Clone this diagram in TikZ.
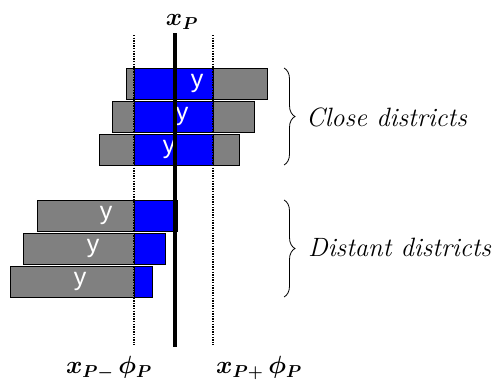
\documentclass[tikz,border=0pt]{standalone}
\usepackage{fontspec}
\usepackage{amsmath,amssymb,bm}
\usetikzlibrary{positioning, decorations.pathreplacing}
\newfontfamily\barfont{Liberation Sans}

\begin{document}
\begin{tikzpicture}[
        x=1pt, y=-1pt,
        gbar/.style={
            rectangle,
            draw=black,
            line width=0.8pt,
            fill=gray,
            minimum height=31pt,
            inner sep=0pt,
            anchor=north west
        },
        bbar/.style={
            rectangle,
            draw=black,
            line width=0.5pt,
            fill=blue,
            minimum height=31pt,
            inner sep=0pt,
            anchor=north west
        },
        ylab/.style={
            text=white,
            font=\barfont\fontsize{25}{27}\selectfont,
            inner sep=0pt
        },
        mlab/.style={
            font=\fontsize{26}{30}\selectfont\boldmath,
            inner sep=0pt
        },
        dlab/.style={
            font=\fontsize{26.5}{30}\selectfont\itshape,
            inner sep=0pt,
            anchor=west
        },
        bound/.style={
            line width=2.4pt,
            dash pattern=on 1.4pt off 1.2pt
        },
        brc/.style={
            decorate,
            decoration={brace, amplitude=11pt},
            line width=0.8pt
        }
        ]

        \useasboundingbox (0,0) rectangle (494,386);

        % close districts
        \node (g1) [gbar, minimum width=141pt] at (126,68) {};
        \node (g2) [gbar, minimum width=142pt] at (112,101) {};
        \node (g3) [gbar, minimum width=140pt] at (99,134) {};
        \node (b1) [bbar, minimum width=79pt] at (134,68) {};
        \node (b2) [bbar, minimum width=79pt] at (134,101) {};
        \node (b3) [bbar, minimum width=79pt] at (134,134) {};

        % distant districts
        \node (g4) [gbar, minimum width=97pt] at (37,200) {};
        \node (g5) [gbar, minimum width=111pt] at (23,233) {};
        \node (g6) [gbar, minimum width=124pt] at (10,266) {};
        \node (b4) [bbar, minimum width=43pt] at (134,200) {};
        \node (b5) [bbar, minimum width=31pt] at (134,233) {};
        \node (b6) [bbar, minimum width=18pt] at (134,266) {};

        \node (y1) [ylab] at (197,83) {y};
        \node (y2) [ylab] at (182,116) {y};
        \node (y3) [ylab] at (169,149) {y};
        \node (y4) [ylab] at (106,215) {y};
        \node (y5) [ylab] at (93,248) {y};
        \node (y6) [ylab] at (80,281) {y};

        % x_P and the bounds
        \node (xp) [mlab] at (182,22) {$x_{P}$};
        \node (xlo) [mlab] at (109,368) {$x_{P{-}}\,\phi_{P}$};
        \node (xhi) [mlab] at (259,368) {$x_{P{+}}\,\phi_{P}$};

        \coordinate (lo top) at (134,35);
        \coordinate (lo bot) at (134,345);
        \coordinate (hi top) at (213,35);
        \coordinate (hi bot) at (213,345);
        \coordinate (xp top) at (175,33);
        \coordinate (xp bot) at (175,347);

        \draw [bound] (lo top) -- (lo bot);
        \draw [bound] (hi top) -- (hi bot);
        \draw [line width=3.5pt] (xp top) -- (xp bot);

        % braces
        \coordinate (c top) at (284,68);
        \coordinate (c bot) at (284,165);
        \coordinate (d top) at (284,200);
        \coordinate (d bot) at (284,297);
        \draw [brc] (c top) -- (c bot);
        \draw [brc] (d top) -- (d bot);

        \node (close) [dlab] at (306,117) {Close districts};
        \node (dist) [dlab] at (308,247) {Distant districts};

    \end{tikzpicture}
\end{document}
